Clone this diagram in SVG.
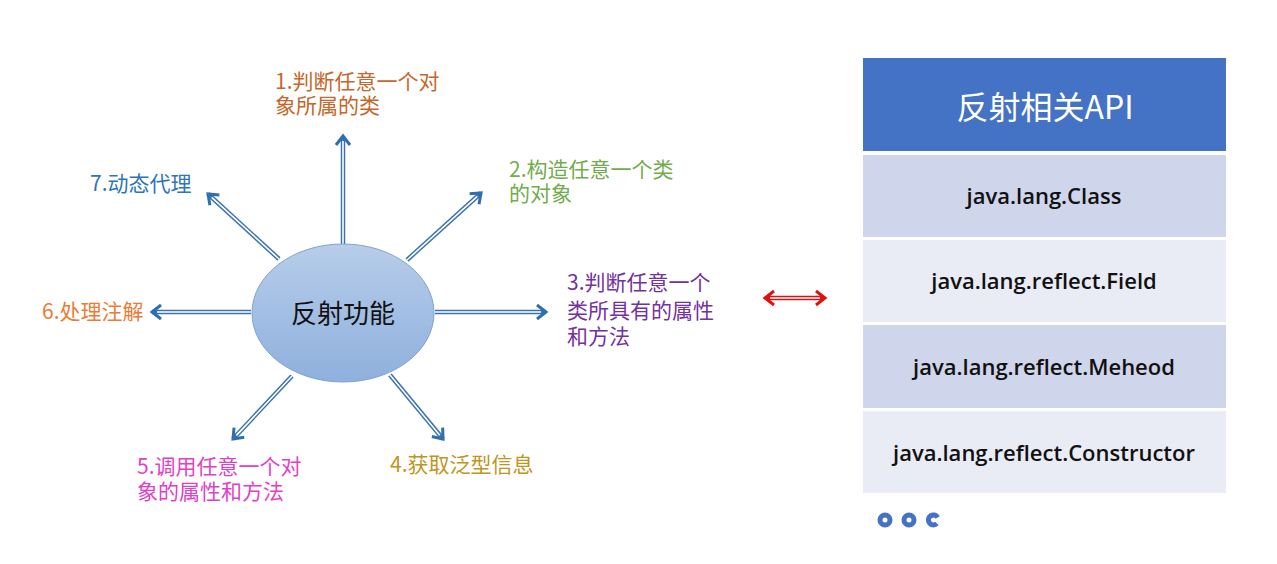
<svg xmlns="http://www.w3.org/2000/svg" width="1277" height="564" viewBox="0 0 1277 564">
<defs>
<linearGradient id="eg" x1="0" y1="0" x2="0" y2="1">
<stop offset="0" stop-color="#b7cdea"/>
<stop offset="1" stop-color="#8eb0dd"/>
</linearGradient>
<marker id="ah" markerUnits="userSpaceOnUse" markerWidth="30" markerHeight="30" refX="0" refY="0" viewBox="-15 -15 30 30" orient="auto" overflow="visible">
<path d="M-9,-7 L0,0 L-9,7" fill="none" stroke="#2e6fb0" stroke-width="3" stroke-linejoin="miter"/>
</marker>
<style>
.out{stroke:#3a72ad;stroke-width:4.5;fill:none}
.inn{stroke:#ffffff;stroke-width:1.6;fill:none}
.lbl{font-family:"Noto Sans CJK SC","Noto Sans",sans-serif;font-size:21px}
.api{font-family:"Open Sans","Noto Sans",sans-serif;font-size:22px;font-weight:600;fill:#111;text-anchor:middle}
</style>
</defs>
<rect width="1277" height="564" fill="#ffffff"/>

<g id="connectors">
<line class="out" x1="343" y1="244" x2="343" y2="136" marker-end="url(#ah)"/>
<line class="inn" x1="343" y1="244" x2="343" y2="141"/>
<line class="out" x1="279" y1="259" x2="208" y2="194" marker-end="url(#ah)"/>
<line class="inn" x1="279" y1="259" x2="211.7" y2="197.4"/>
<line class="out" x1="407" y1="260" x2="481" y2="193" marker-end="url(#ah)"/>
<line class="inn" x1="407" y1="260" x2="477.3" y2="196.4"/>
<line class="out" x1="435" y1="312" x2="546" y2="312" marker-end="url(#ah)"/>
<line class="inn" x1="435" y1="312" x2="541" y2="312"/>
<line class="out" x1="251" y1="312" x2="152" y2="312" marker-end="url(#ah)"/>
<line class="inn" x1="251" y1="312" x2="157" y2="312"/>
<line class="out" x1="292" y1="376" x2="233" y2="439" marker-end="url(#ah)"/>
<line class="inn" x1="292" y1="376" x2="236.4" y2="435.4"/>
<line class="out" x1="390" y1="375" x2="443" y2="439" marker-end="url(#ah)"/>
<line class="inn" x1="390" y1="375" x2="439.8" y2="435.2"/>
<g id="red-arrow">
<line x1="766" y1="298" x2="824" y2="298" stroke="#e01010" stroke-width="4.5"/>
<line x1="770" y1="298" x2="820" y2="298" stroke="#ffffff" stroke-width="1.5"/>
<path d="M774,291 L765,298 L774,305" fill="none" stroke="#e01010" stroke-width="3"/>
<path d="M816,291 L825,298 L816,305" fill="none" stroke="#e01010" stroke-width="3"/>
</g>
</g>

<g id="center">
<ellipse cx="343" cy="313" rx="91" ry="69" fill="url(#eg)" stroke="#7fa3d3" stroke-width="1"/>
<text x="343" y="323" text-anchor="middle" font-family="Noto Sans CJK SC, sans-serif" font-size="26" fill="#111">反射功能</text>
</g>

<g id="n1"><text class="lbl" fill="#c5672b"><tspan x="275" y="89">1.判断任意一个对</tspan><tspan x="275" y="113">象所属的类</tspan></text></g>
<g id="n2"><text class="lbl" fill="#72ac4c"><tspan x="509" y="177">2.构造任意一个类</tspan><tspan x="509" y="201">的对象</tspan></text></g>
<g id="n3"><text class="lbl" fill="#7431a0"><tspan x="567" y="290">3.判断任意一个</tspan><tspan x="567" y="318">类所具有的属性</tspan><tspan x="567" y="344">和方法</tspan></text></g>
<g id="n4"><text class="lbl" fill="#bf9520" x="390" y="472">4.获取泛型信息</text></g>
<g id="n5"><text class="lbl" fill="#e23fc8"><tspan x="137" y="474">5.调用任意一个对</tspan><tspan x="137" y="499">象的属性和方法</tspan></text></g>
<g id="n6"><text class="lbl" fill="#ea7d35" x="42" y="319">6.处理注解</text></g>
<g id="n7"><text class="lbl" fill="#2e75b6" x="90" y="191">7.动态代理</text></g>

<g id="api-panel">
<rect x="863" y="58" width="363" height="93" fill="#4472c4"/>
<text x="1045" y="119" text-anchor="middle" font-family="Noto Sans CJK SC, serif" font-size="32" fill="#ffffff">反射相关API</text>
<rect x="863" y="155" width="363" height="82" fill="#cfd5ea"/>
<text class="api" x="1044" y="204">java.lang.Class</text>
<rect x="863" y="240" width="363" height="82" fill="#e9ebf5"/>
<text class="api" x="1044" y="289">java.lang.reflect.Field</text>
<rect x="863" y="325" width="363" height="83" fill="#cfd5ea"/>
<text class="api" x="1044" y="375">java.lang.reflect.Meheod</text>
<rect x="863" y="411" width="363" height="82" fill="#e9ebf5"/>
<text class="api" x="1044" y="461">java.lang.reflect.Constructor</text>
</g>

<g id="dots" fill="none" stroke="#4472c4" stroke-width="5">
<circle cx="885" cy="520" r="5"/>
<circle cx="909" cy="520" r="5"/>
<path d="M937.7,517.4 A5,5 0 1 0 936.9,523.5"/>
</g>
</svg>
